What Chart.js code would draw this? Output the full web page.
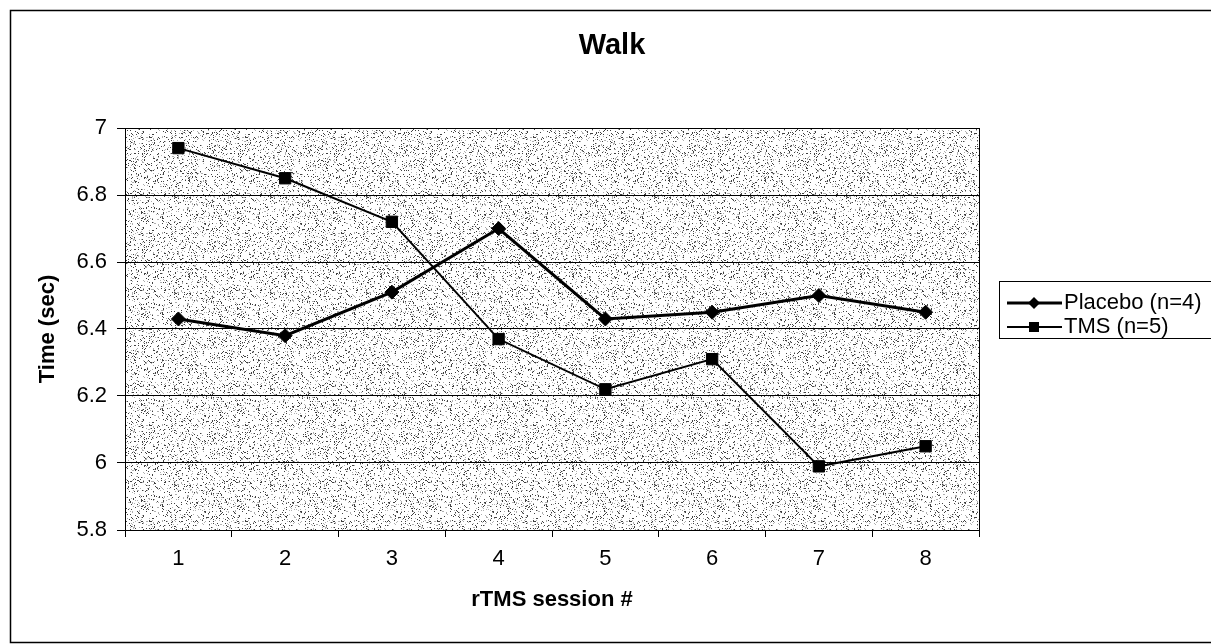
<!DOCTYPE html>
<html>
<head>
<meta charset="utf-8">
<script src="https://cdn.jsdelivr.net/npm/chart.js@4/dist/chart.umd.min.js"></script>
<style>
  body { margin: 0; background: #fff; }
  #wrap { width: 1211px; height: 644px; }
</style>
</head>
<body>
<div id="wrap"><canvas id="walkChart" width="1211" height="644"></canvas></div>
<script>
var sessions = ['1', '2', '3', '4', '5', '6', '7', '8'];
var placebo = [6.43, 6.38, 6.51, 6.70, 6.43, 6.45, 6.50, 6.45];
var tms = [6.94, 6.85, 6.72, 6.37, 6.22, 6.31, 5.99, 6.05];
var yTicks = [5.8, 6, 6.2, 6.4, 6.6, 6.8, 7];
var chartTitle = 'Walk';

var FONT = "'Liberation Sans', Arial, sans-serif";

// stippled grey fill like the scanned Excel plot area
function makeStipple() {
    var c = document.createElement('canvas');
    c.width = 96; c.height = 96;
    var g = c.getContext('2d');
    g.fillStyle = '#ffffff';
    g.fillRect(0, 0, 96, 96);
    for (var y = 0; y < 96; y++) {
        for (var x = 0; x < 96; x++) {
            var h = (x * 374761393 + y * 668265263) | 0;
            h = Math.imul(h ^ (h >>> 13), 1274126177);
            h = (h ^ (h >>> 16)) >>> 0;
            var r = h % 100;
            if (r < 8) {
                g.fillStyle = '#404040';
                g.fillRect(x, y, 1, 1);
            } else if (r < 16) {
                g.fillStyle = '#b0b0b0';
                g.fillRect(x, y, 1, 1);
            }
        }
    }
    return c;
}

var frame = {
    id: 'frame',
    beforeDraw: function (chart) {
        var ctx = chart.ctx, a = chart.chartArea;
        ctx.save();
        ctx.fillStyle = ctx.createPattern(makeStipple(), 'repeat');
        ctx.fillRect(a.left, a.top, a.right - a.left, a.bottom - a.top);
        ctx.restore();
    },
    afterDraw: function (chart) {
        var ctx = chart.ctx, a = chart.chartArea;
        ctx.save();
        ctx.strokeStyle = '#000';
        ctx.lineWidth = 1;
        // plot area right edge
        ctx.beginPath();
        ctx.moveTo(Math.round(a.right) + 0.5, a.top);
        ctx.lineTo(Math.round(a.right) + 0.5, a.bottom);
        ctx.stroke();
        // outer chart border (right side runs off the page)
        ctx.lineWidth = 1.5;
        ctx.strokeRect(10.5, 10.5, 1300, 632);

        // title
        ctx.fillStyle = '#000';
        ctx.font = 'bold 29px ' + FONT;
        ctx.textAlign = 'center';
        ctx.textBaseline = 'middle';
        ctx.fillText(chartTitle, 612, 46);

        // legend
        ctx.lineWidth = 1;
        ctx.strokeRect(999.5, 281.5, 230, 57);
        var rows = [303, 327];
        ctx.font = '22px ' + FONT;
        ctx.textAlign = 'left';
        chart.data.datasets.forEach(function (ds, i) {
            var y = rows[i];
            ctx.beginPath();
            ctx.lineWidth = ds.borderWidth;
            ctx.moveTo(1007, y);
            ctx.lineTo(1062, y);
            ctx.stroke();
            ctx.beginPath();
            if (ds.pointStyle === 'rectRot') {
                ctx.moveTo(1034, y - 6); ctx.lineTo(1040, y);
                ctx.lineTo(1034, y + 6); ctx.lineTo(1028, y);
                ctx.closePath();
            } else {
                ctx.rect(1029, y - 5, 10, 10);
            }
            ctx.fill();
            ctx.fillText(ds.label, 1064, y);
        });
        ctx.restore();
    }
};

var ctx = document.getElementById('walkChart').getContext('2d');
var chart = new Chart(ctx, {
    type: 'line',
    data: {
        labels: sessions,
        datasets: [{
            label: 'Placebo (n=4)',
            data: placebo,
            borderColor: '#000',
            backgroundColor: '#000',
            borderWidth: 3,
            pointStyle: 'rectRot',
            pointRadius: 7,
            pointBorderWidth: 1,
            tension: 0
        }, {
            label: 'TMS (n=5)',
            data: tms,
            borderColor: '#000',
            backgroundColor: '#000',
            borderWidth: 2,
            pointStyle: 'rect',
            pointRadius: 8,
            pointBorderWidth: 1,
            tension: 0
        }]
    },
    options: {
        responsive: false,
        animation: false,
        layout: { padding: { top: 128, left: 0, right: 232, bottom: 0 } },
        scales: {
            x: {
                type: 'category',
                offset: true,
                afterFit: function (scale) { scale.height = 114; },
                grid: {
                    offset: true,
                    drawOnChartArea: false,
                    color: '#000',
                    tickLength: 7
                },
                border: { color: '#000', width: 1 },
                ticks: {
                    color: '#000',
                    padding: 9,
                    maxRotation: 0,
                    font: { family: FONT, size: 22 }
                },
                title: {
                    display: true,
                    text: 'rTMS session #',
                    color: '#000',
                    padding: { top: 10, bottom: 31 },
                    font: { family: FONT, size: 22, weight: 'bold' }
                }
            },
            y: {
                min: 5.8,
                max: 7,
                afterFit: function (scale) { scale.width = 125; },
                afterBuildTicks: function (scale) {
                    scale.ticks = yTicks.map(function (v) { return { value: v }; });
                },
                grid: {
                    color: '#000',
                    lineWidth: 1,
                    tickLength: 8
                },
                border: { color: '#000', width: 1 },
                ticks: {
                    color: '#000',
                    padding: 10,
                    font: { family: FONT, size: 22 },
                    callback: function (value) { return String(Math.round(value * 10) / 10); }
                },
                title: {
                    display: true,
                    text: 'Time (sec)',
                    color: '#000',
                    padding: { top: 35, bottom: 0 },
                    font: { family: FONT, size: 22, weight: 'bold' }
                }
            }
        },
        plugins: {
            title: { display: false },
            legend: { display: false },
            tooltip: { enabled: false }
        }
    },
    plugins: [frame]
});
</script>
</body>
</html>
